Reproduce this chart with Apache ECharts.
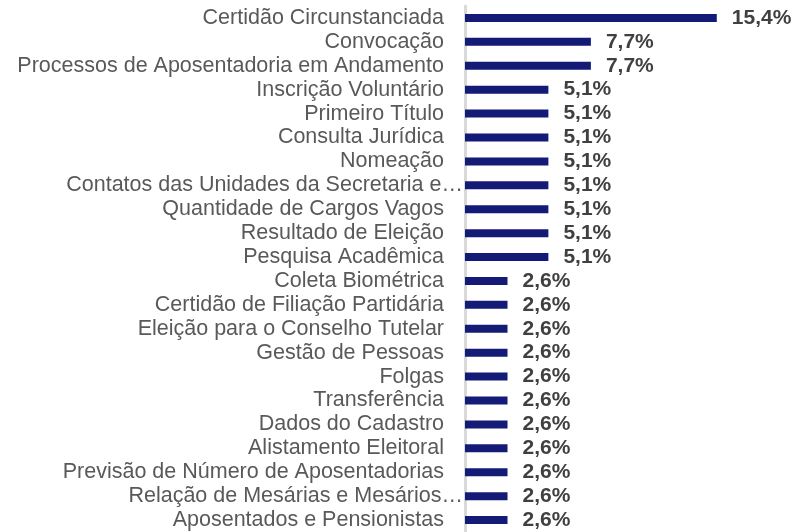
<!DOCTYPE html>
<html><head><meta charset="utf-8">
<script src="https://cdn.jsdelivr.net/npm/echarts@6/dist/echarts.min.js"></script>
<style>html,body{margin:0;padding:0;background:#fff}#c{width:797px;height:532px}</style>
</head><body><div id="c"></div>
<script>
const categories = [
  'Certidão Circunstanciada',
  'Convocação',
  'Processos de Aposentadoria em Andamento',
  'Inscrição Voluntário',
  'Primeiro Título',
  'Consulta Jurídica',
  'Nomeação',
  'Contatos das Unidades da Secretaria e…',
  'Quantidade de Cargos Vagos',
  'Resultado de Eleição',
  'Pesquisa Acadêmica',
  'Coleta Biométrica',
  'Certidão de Filiação Partidária',
  'Eleição para o Conselho Tutelar',
  'Gestão de Pessoas',
  'Folgas',
  'Transferência',
  'Dados do Cadastro',
  'Alistamento Eleitoral',
  'Previsão de Número de Aposentadorias',
  'Relação de Mesárias e Mesários…',
  'Aposentados e Pensionistas'
];
const values = [15.4, 7.7, 7.7, 5.1, 5.1, 5.1, 5.1, 5.1, 5.1, 5.1, 5.1, 2.6, 2.6, 2.6, 2.6, 2.6, 2.6, 2.6, 2.6, 2.6, 2.6, 2.6];
const truncated = ['Contatos das Unidades da Secretaria e…', 'Relação de Mesárias e Mesários…'];

const chart = echarts.init(document.getElementById('c'));
chart.setOption({
  animation: false,
  grid: { left: 465, right: 5, top: 6, bottom: 0, containLabel: false },
  xAxis: { type: 'value', min: 0, max: 20, show: false },
  yAxis: {
    type: 'category', inverse: true,
    data: categories.map(c => truncated.includes(c)
      ? { value: c, textStyle: { padding: [0, -19, 0, 0] } }
      : c),
    axisLine: { show: true, lineStyle: { color: '#d9d9d9', width: 3 } },
    axisTick: { show: false },
    axisLabel: { interval: 0, color: '#595959', fontFamily: 'Liberation Sans, Arial, sans-serif', fontSize: 21.5, margin: 21 }
  },
  series: [{
    type: 'bar', data: values, barWidth: 8,
    itemStyle: { color: '#131B77' },
    label: {
      show: true, position: 'right', distance: 15,
      color: '#404040', fontWeight: 'bold', fontSize: 21,
      fontFamily: 'Liberation Sans, Arial, sans-serif',
      formatter: p => p.value.toFixed(1).replace('.', ',') + '%'
    }
  }]
});
</script></body></html>
